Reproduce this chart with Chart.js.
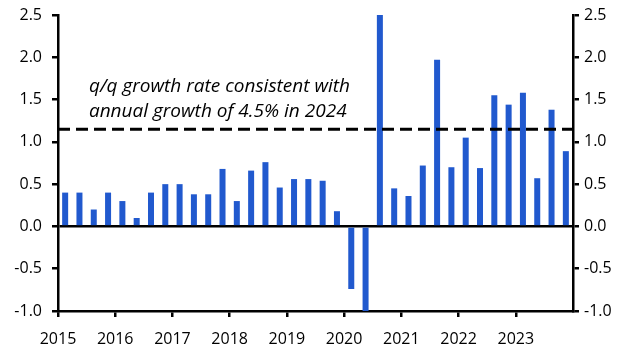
<!DOCTYPE html>
<html>
<head>
<meta charset="utf-8">
<script src="https://cdn.jsdelivr.net/npm/chart.js@4"></script>
<style>
html,body{margin:0;padding:0;background:#fff;}
#wrap{width:632px;height:355px;}
</style>
</head>
<body>
<div id="wrap"><canvas id="c" width="632" height="355"></canvas></div>
<script>
// Quarterly categories 2015Q1 .. 2023Q4
const years = [2015, 2016, 2017, 2018, 2019, 2020, 2021, 2022, 2023];
const quarters = ["Q1", "Q2", "Q3", "Q4"];
const categories = [];
years.forEach(y => quarters.forEach(q => categories.push(y + q)));

// q/q growth, % (2020Q2 and 2020Q3 exceed the axis range and are clipped)
const growth = [
  0.40, 0.40, 0.20, 0.40,
  0.30, 0.10, 0.40, 0.50,
  0.50, 0.38, 0.38, 0.68,
  0.30, 0.66, 0.76, 0.46,
  0.56, 0.56, 0.54, 0.18,
  -0.74, -1.50, 3.00, 0.45,
  0.36, 0.72, 1.97, 0.70,
  1.05, 0.69, 1.55, 1.44,
  1.58, 0.57, 1.38, 0.89
];

// Reference level: q/q rate consistent with 4.5% annual growth in 2024
const targetLevel = 1.15;
const targetSpan = [2015, 2024];

const yearTickLabels = ["2015", "2016", "2017", "2018", "2019", "2020", "2021", "2022", "2023", ""];
const yTickLabels = ["-1.0", "-0.5", "0.0", "0.5", "1.0", "1.5", "2.0", "2.5"];
const annotationLines = ["q/q growth rate consistent with", "annual growth of 4.5% in 2024"];

Chart.defaults.font.family = "'Open Sans', 'DejaVu Sans', sans-serif";
Chart.defaults.font.size = 16;
Chart.defaults.color = "#000";

const yTick = v => {
  const i = Math.round((v + 1) / 0.5);
  return yTickLabels[i] !== undefined ? yTickLabels[i] : "";
};

const annotationPlugin = {
  id: "annot",
  afterDatasetsDraw(chart) {
    const ctx = chart.ctx;
    const xs = chart.scales.xYear, ys = chart.scales.y;
    ctx.save();
    ctx.font = "italic 19px 'Open Sans', sans-serif";
    ctx.fillStyle = "#000";
    ctx.textBaseline = "alphabetic";
    const x = xs.getPixelForValue(2015.54);
    ctx.fillText(annotationLines[0], x, ys.getPixelForValue(1.585));
    ctx.fillText(annotationLines[1], x, ys.getPixelForValue(1.29));
    ctx.restore();
  }
};

const fitY = w => s => { s.width = w; s.paddingTop = 0; s.paddingBottom = 0; };

new Chart(document.getElementById("c"), {
  type: "bar",
  data: {
    labels: categories,
    datasets: [
      {
        type: "line",
        data: [{x: targetSpan[0], y: targetLevel}, {x: targetSpan[1], y: targetLevel}],
        xAxisID: "xYear",
        yAxisID: "y",
        borderColor: "#000",
        borderWidth: 3,
        borderDash: [12, 6],
        pointRadius: 0,
        fill: false,
        order: 0
      },
      {
        type: "bar",
        data: growth,
        xAxisID: "x",
        yAxisID: "y",
        backgroundColor: "rgb(33,89,206)",
        barPercentage: 0.42,
        categoryPercentage: 1.0,
        grouped: false,
        order: 1
      }
    ]
  },
  options: {
    responsive: false,
    animation: false,
    layout: {padding: {top: 15, left: 0, right: 0, bottom: 0}},
    plugins: {legend: {display: false}, tooltip: {enabled: false}},
    scales: {
      x: {type: "category", display: false, offset: true},
      xYear: {
        type: "linear",
        position: "bottom",
        offset: false,
        min: 2015, max: 2024,
        afterFit: s => { s.height = 44; },
        ticks: {
          stepSize: 1,
          autoSkip: false,
          maxRotation: 0,
          padding: 13,
          callback: v => yearTickLabels[v - 2015] !== undefined ? yearTickLabels[v - 2015] : ""
        },
        grid: {
          offset: false,
          drawOnChartArea: false,
          drawTicks: true,
          tickLength: 6,
          lineWidth: 2.5,
          tickColor: c => (c.tick && c.tick.value === 2024) ? "rgba(0,0,0,0)" : "#000"
        },
        border: {display: true, color: "#000", width: 2.5}
      },
      y: {
        type: "linear",
        position: "left",
        min: -1, max: 2.5,
        afterFit: fitY(58),
        ticks: {stepSize: 0.5, padding: 10, callback: yTick},
        grid: {
          drawOnChartArea: true,
          drawTicks: true,
          tickLength: 6,
          tickColor: "#000",
          color: c => (c.tick && c.tick.value === 0) ? "#000" : "rgba(0,0,0,0)",
          lineWidth: 2.5
        },
        border: {display: true, color: "#000", width: 2.5}
      },
      y2: {
        type: "linear",
        position: "right",
        min: -1, max: 2.5,
        afterFit: fitY(59),
        ticks: {stepSize: 0.5, padding: 5, callback: yTick},
        grid: {
          drawOnChartArea: false,
          drawTicks: true,
          tickLength: 6,
          tickColor: "#000",
          lineWidth: 2.5
        },
        border: {display: true, color: "#000", width: 2.5}
      }
    }
  },
  plugins: [annotationPlugin]
});
</script>
</body>
</html>
